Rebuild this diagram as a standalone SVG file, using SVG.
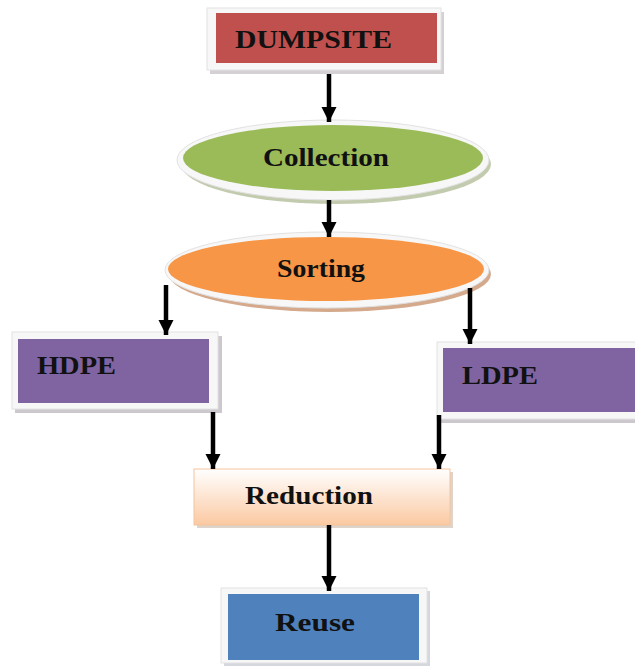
<svg xmlns="http://www.w3.org/2000/svg" width="635" height="666" viewBox="0 0 635 666">
<style>
.lbl{font-family:"Liberation Serif","Times New Roman",serif;font-weight:bold;font-size:25px;fill:#111}
.frame{fill:#f7f7f7;stroke:#e2e2e2;stroke-width:1}
.shadow{fill:#b8b0b8}
.conn{stroke:#000;stroke-width:4.5;fill:none;marker-end:url(#ah)}
</style>
<defs>
<marker id="ah" viewBox="0 0 10 10" refX="10" refY="5" markerWidth="3.4" markerHeight="3.8" markerUnits="strokeWidth" orient="auto">
<path d="M0,0 L10,5 L0,10 z" fill="#000"/>
</marker>
<linearGradient id="redg" x1="0" y1="0" x2="0" y2="1">
<stop offset="0" stop-color="#ffffff"/>
<stop offset="1" stop-color="#fbc9a2"/>
</linearGradient>
</defs>
<rect width="635" height="666" fill="#fff"/>
<g id="dumpsite">
<rect x="210" y="12" width="234" height="62" class="shadow" opacity="0.6"/>
<rect x="207" y="8" width="234" height="62" class="frame"/>
<rect x="216" y="13" width="221" height="50" fill="#c0504d"/>
<text x="235" y="48" class="lbl" textLength="157" lengthAdjust="spacingAndGlyphs">DUMPSITE</text>
</g>
<g id="collection">
<ellipse cx="336" cy="164" rx="155" ry="40" fill="#a9b58c" opacity="0.7"/>
<ellipse cx="333" cy="160" rx="156" ry="40" class="frame"/>
<ellipse cx="333" cy="158" rx="150" ry="33" fill="#9bbb59"/>
<text x="263" y="166" class="lbl" textLength="126" lengthAdjust="spacingAndGlyphs">Collection</text>
</g>
<g id="sorting">
<ellipse cx="330" cy="274" rx="161" ry="38" fill="#c9946f" opacity="0.8"/>
<ellipse cx="327" cy="270" rx="162" ry="38" class="frame"/>
<ellipse cx="326" cy="269" rx="158" ry="32" fill="#f79646"/>
<text x="277" y="277" class="lbl" textLength="88" lengthAdjust="spacingAndGlyphs">Sorting</text>
</g>
<g id="hdpe">
<rect x="15" y="336" width="207" height="77" class="shadow" opacity="0.7"/>
<rect x="12" y="332" width="206" height="77" class="frame"/>
<rect x="18" y="339" width="191" height="64" fill="#8064a2"/>
<text x="37" y="374" class="lbl" textLength="79" lengthAdjust="spacingAndGlyphs">HDPE</text>
</g>
<g id="ldpe">
<rect x="440" y="346" width="200" height="77" class="shadow" opacity="0.7"/>
<rect x="437" y="342" width="200" height="77" class="frame"/>
<rect x="443" y="348" width="195" height="64" fill="#8064a2"/>
<text x="462" y="384" class="lbl" textLength="76" lengthAdjust="spacingAndGlyphs">LDPE</text>
</g>
<g id="reduction">
<rect x="197" y="472" width="256" height="56" fill="#c8b8a8" opacity="0.6"/>
<rect x="194" y="469" width="256" height="56" fill="url(#redg)" stroke="#f5c49c" stroke-width="1"/>
<text x="245" y="504" class="lbl" textLength="128" lengthAdjust="spacingAndGlyphs">Reduction</text>
</g>
<g id="reuse">
<rect x="224" y="591" width="206" height="75" fill="#b8bcc8" opacity="0.6"/>
<rect x="221" y="588" width="206" height="75" class="frame"/>
<rect x="228" y="594" width="191" height="66" fill="#4f81bd"/>
<text x="275" y="631" class="lbl" textLength="80" lengthAdjust="spacingAndGlyphs">Reuse</text>
</g>
<g id="connectors">
<line x1="329" y1="74" x2="329" y2="122" class="conn"/>
<line x1="329" y1="200" x2="329" y2="237" class="conn"/>
<line x1="166" y1="285" x2="166" y2="335" class="conn"/>
<line x1="470" y1="288" x2="470" y2="344" class="conn"/>
<line x1="213" y1="412" x2="213" y2="469" class="conn"/>
<line x1="439" y1="415" x2="439" y2="469" class="conn"/>
<line x1="329" y1="525" x2="329" y2="591" class="conn"/>
</g>
</svg>
